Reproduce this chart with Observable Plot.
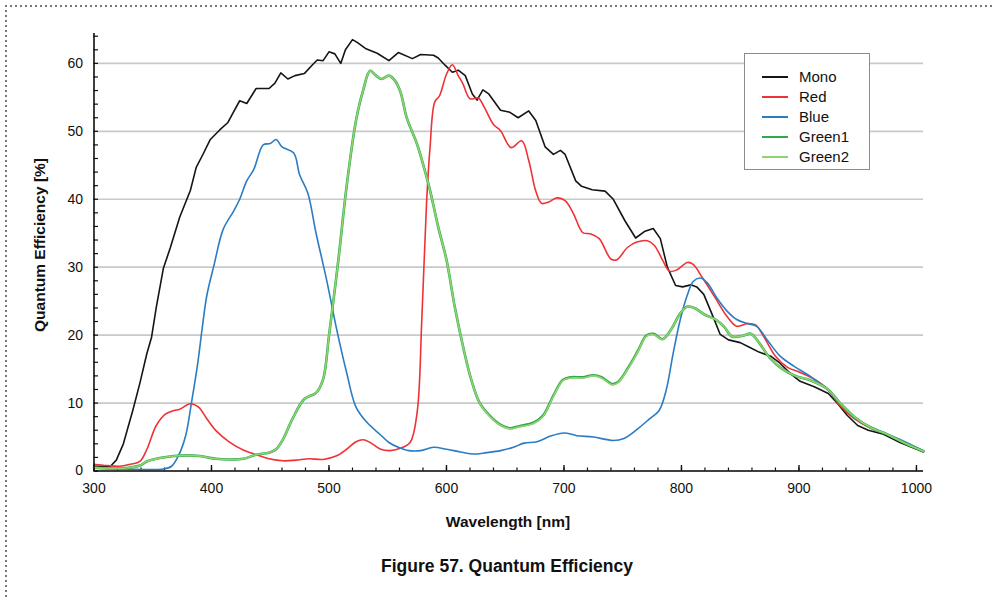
<!DOCTYPE html>
<html><head><meta charset="utf-8">
<script src="https://cdn.jsdelivr.net/npm/d3@7"></script>
<script src="https://cdn.jsdelivr.net/npm/@observablehq/plot@0.6"></script>
<style>
body{margin:0;background:#fff;font-family:"Liberation Sans",Arial,Helvetica,sans-serif;}
#wrap{position:relative;width:993px;height:597px;overflow:hidden;background:#fff;}
#chart{position:absolute;left:0;top:0;}
.dotH{position:absolute;left:5px;top:5px;width:990px;height:2px;background:repeating-linear-gradient(to right,#777 0 2px,transparent 2px 5px);}
.dotV{position:absolute;left:5px;top:5px;width:2px;height:600px;background:repeating-linear-gradient(to bottom,#777 0 2px,transparent 2px 5px);}
.ctr{position:absolute;transform:translate(-50%,-50%);white-space:nowrap;font-weight:bold;color:#111;}
#ytitle{left:40px;top:245px;transform:translate(-50%,-50%) rotate(-90deg);font-size:15.5px;}
#xtitle{left:508px;top:522px;font-size:15.5px;}
#caption{left:507px;top:566px;font-size:17.5px;}
#legend{position:absolute;left:744px;top:53px;width:126px;height:117px;border:1.5px solid #8c8c8c;background:#fff;box-sizing:border-box;}
.lrow{position:absolute;left:0;height:20px;font-size:15px;color:#111;}
.lrow .sw{position:absolute;left:17px;top:9px;width:26px;height:2px;}
.lrow .lb{position:absolute;left:54px;top:1px;line-height:18px;}
</style></head><body>
<div id="wrap">
<div id="chart"></div>
<div class="dotH"></div><div class="dotV"></div>
<div class="ctr" id="ytitle">Quantum Efficiency [%]</div>
<div class="ctr" id="xtitle">Wavelength [nm]</div>
<div class="ctr" id="caption">Figure 57. Quantum Efficiency</div>
<div id="legend"></div>
</div>
<script>
// Wavelength [nm], quantum efficiency [%]
const mono = [[300,0.7],[314,0.7],[319,1.6],[325,4.0],[333,8.9],[339,12.9],[345,17.3],[349,19.7],[353,24.1],[359,29.8],[365,32.9],[373,37.4],[382,41.3],[387,44.7],[393,46.7],[399,48.8],[407,50.2],[414,51.3],[418,52.6],[424,54.5],[430,54.1],[438,56.3],[449,56.3],[454,57.1],[459,58.6],[465,57.7],[471,58.2],[479,58.5],[486,59.8],[490,60.5],[495,60.4],[500,61.7],[505,61.4],[510,60.0],[514,62.0],[520,63.5],[524,63.1],[531,62.2],[541,61.5],[551,60.4],[559,61.6],[571,60.7],[578,61.3],[589,61.2],[593,60.8],[599,59.7],[605,58.7],[610,59.0],[616,58.2],[622,55.5],[626,54.6],[631,56.1],[636,55.5],[646,53.1],[654,52.8],[661,52.0],[670,53.0],[676,51.6],[684,47.7],[691,46.6],[697,47.2],[701,46.6],[710,42.7],[715,41.9],[724,41.4],[735,41.2],[742,40.0],[752,36.8],[761,34.3],[769,35.3],[776,35.7],[782,34.2],[788,30.0],[795,27.3],[801,27.1],[808,27.4],[813,27.1],[819,26.0],[826,23.1],[833,20.1],[840,19.3],[850,18.9],[857,18.3],[866,17.5],[876,16.9],[883,16.0],[893,14.3],[901,13.2],[913,12.4],[925,11.4],[933,9.9],[941,8.2],[950,6.7],[959,6.0],[972,5.4],[986,4.2],[1006,2.8]];
const red = [[300,1.0],[311,0.8],[322,0.7],[331,1.0],[339,1.4],[345,3.2],[353,6.7],[361,8.4],[368,8.9],[373,9.1],[382,9.9],[389,9.4],[396,7.7],[404,5.9],[415,4.3],[427,3.1],[438,2.4],[449,1.8],[461,1.5],[472,1.6],[483,1.8],[495,1.7],[506,2.2],[515,3.2],[523,4.3],[529,4.6],[535,4.2],[544,3.2],[552,3.0],[560,3.3],[569,4.2],[575,8.6],[579,22.3],[583,39.3],[586,47.6],[590,54.3],[594,55.2],[600,58.4],[605,59.8],[610,58.2],[614,57.0],[620,54.8],[627,54.9],[632,53.6],[640,51.0],[646,50.1],[655,47.6],[664,48.6],[670,45.7],[676,41.2],[681,39.4],[687,39.6],[694,40.2],[701,39.8],[708,37.9],[716,35.1],[723,34.9],[730,34.2],[740,31.2],[745,31.1],[754,32.9],[762,33.7],[771,33.9],[777,33.2],[784,31.0],[790,29.4],[796,29.6],[805,30.7],[810,30.4],[818,28.4],[828,25.7],[839,22.7],[847,21.3],[856,21.7],[863,21.5],[870,19.8],[880,16.9],[890,15.3],[901,14.5],[913,13.5],[924,12.1],[935,9.6],[947,7.7],[961,6.3],[975,5.4],[989,4.2],[1006,2.9]];
const blue = [[300,0.5],[325,0.3],[359,0.3],[366,0.7],[372,2.3],[378,5.2],[383,10.1],[388,15.5],[392,20.9],[396,25.8],[402,30.2],[410,35.6],[419,38.3],[424,40.0],[430,42.7],[436,44.4],[444,48.0],[450,48.2],[455,48.8],[460,47.7],[470,46.8],[475,43.6],[482,40.9],[489,35.0],[498,28.1],[506,21.3],[515,14.5],[523,9.4],[532,7.2],[544,5.3],[551,4.2],[559,3.5],[568,3.0],[578,3.0],[589,3.5],[600,3.2],[612,2.8],[623,2.5],[634,2.7],[646,3.0],[657,3.5],[666,4.1],[677,4.3],[688,5.1],[700,5.6],[711,5.2],[725,5.0],[742,4.5],[751,4.8],[762,6.1],[773,7.7],[781,8.9],[787,11.9],[793,17.4],[799,22.3],[805,25.9],[810,27.9],[816,28.4],[822,27.7],[830,25.5],[839,23.5],[847,22.3],[856,21.7],[864,21.3],[873,19.3],[884,16.9],[896,15.4],[910,13.9],[924,12.0],[938,9.3],[952,7.3],[967,6.0],[981,5.0],[995,3.9],[1006,3.0]];
const green1 = [[300,0.5],[325,0.4],[339,0.8],[345,1.4],[356,1.9],[368,2.2],[379,2.3],[390,2.2],[404,1.8],[415,1.7],[427,1.8],[438,2.4],[449,2.7],[455,3.2],[461,4.7],[469,7.7],[479,10.6],[489,11.5],[495,13.5],[500,19.9],[508,31.1],[515,41.9],[523,51.6],[529,56.0],[535,58.9],[540,58.2],[545,57.7],[551,58.2],[556,57.5],[561,55.7],[566,52.1],[575,48.1],[580,45.2],[586,41.3],[593,35.9],[600,31.1],[607,24.2],[614,18.4],[621,13.5],[628,10.1],[637,8.1],[645,6.9],[654,6.3],[662,6.6],[674,7.1],[682,8.1],[691,11.1],[699,13.4],[706,13.8],[716,13.8],[725,14.1],[732,13.8],[741,12.8],[746,13.1],[755,15.3],[763,17.7],[770,19.9],[776,20.2],[784,19.4],[791,20.8],[799,23.2],[805,24.2],[811,24.0],[820,23.0],[829,22.3],[836,21.3],[843,19.8],[852,19.9],[859,20.2],[866,18.9],[875,16.7],[886,15.0],[897,14.0],[909,13.4],[924,12.1],[935,10.0],[947,8.0],[961,6.4],[975,5.4],[989,4.2],[1006,2.9]];
const green2 = [[300,0.5],[325,0.4],[339,0.8],[345,1.4],[356,1.9],[368,2.2],[379,2.3],[390,2.2],[404,1.8],[415,1.7],[427,1.8],[438,2.4],[449,2.7],[455,3.2],[461,4.7],[469,7.7],[479,10.6],[489,11.5],[495,13.5],[500,19.9],[508,31.1],[515,41.9],[523,51.6],[529,56.0],[535,58.9],[540,58.2],[545,57.7],[551,58.2],[556,57.5],[561,55.7],[566,52.1],[575,48.1],[580,45.2],[586,41.3],[593,35.9],[600,31.1],[607,24.2],[614,18.4],[621,13.5],[628,10.1],[637,8.0],[645,6.8],[654,6.2],[662,6.5],[674,7.0],[682,8.0],[691,11.0],[699,13.3],[706,13.7],[716,13.7],[725,14.0],[732,13.7],[741,12.7],[746,13.0],[755,15.2],[763,17.6],[770,19.8],[776,20.1],[784,19.4],[791,20.8],[799,23.2],[805,24.2],[811,24.0],[820,23.0],[829,22.3],[836,21.3],[843,19.8],[852,19.9],[859,20.2],[866,18.9],[875,16.7],[886,15.0],[897,14.0],[909,13.4],[924,12.1],[935,10.0],[947,8.0],[961,6.4],[975,5.4],[989,4.2],[1006,2.9]];

const seriesNames = ["Mono","Red","Blue","Green1","Green2"];
const seriesColors = ["#151515","#ef3236","#2b7cc3","#2fa84f","#8fd46f"];
const seriesWidths = [1.6,1.6,1.6,2.6,1.6];
const seriesData = [mono, red, blue, green1, green2];

const xTicksMajor = [300,400,500,600,700,800,900,1000];
const xTicksMinor = d3.range(300, 1001, 20);
const yTicksMajor = [0,10,20,30,40,50,60];
const yTicksMinor = d3.range(0, 65, 2);
const gridY = [10,20,30,40,50,60];

const lineMarks = seriesData.map((data, i) =>
  Plot.line(data.map(([nm, qe]) => ({nm, qe})), {
    x: "nm", y: "qe", stroke: seriesColors[i], strokeWidth: seriesWidths[i],
    curve: i === 0 ? "linear" : "catmull-rom"
  })
);

const chart = Plot.plot({
  width: 993, height: 540,
  marginTop: 33, marginBottom: 69.5, marginLeft: 93.5, marginRight: 70,
  x: {domain: [300, 1006]},
  y: {domain: [0, 64.4]},
  style: {fontFamily: '"Liberation Sans",Arial,Helvetica,sans-serif', fontSize: "14px", color: "#111", background: "transparent"},
  marks: [
    Plot.ruleY(gridY, {x1: 300, x2: 1006, stroke: "#c9c9c9", strokeWidth: 1.7}),
    Plot.axisY(yTicksMinor, {tickSize: -4.5, tickFormat: () => "", label: null, strokeWidth: 1.2}),
    Plot.axisY(yTicksMajor, {tickSize: 0, tickPadding: 11, label: null, fontSize: 14}),
    Plot.axisX(xTicksMinor, {tickSize: -3, tickFormat: () => "", label: null, strokeWidth: 1.2}),
    Plot.axisX(xTicksMajor, {tickSize: -5.5, tickFormat: () => "", label: null, strokeWidth: 1.4}),
    Plot.axisX(xTicksMajor, {tickSize: 0, tickPadding: 12, tickFormat: d3.format("d"), label: null, fontSize: 14}),
    ...lineMarks,
    Plot.ruleX([300], {y1: 0, y2: 64.4, stroke: "#000", strokeWidth: 1.5}),
    Plot.ruleY([0], {stroke: "#000", strokeWidth: 1.5})
  ]
});
document.getElementById("chart").appendChild(chart);

const legend = document.getElementById("legend");
seriesNames.forEach((name, i) => {
  const row = document.createElement("div");
  row.className = "lrow";
  row.style.top = (13 + i * 20) + "px";
  row.innerHTML = `<div class="sw" style="background:${seriesColors[i]}"></div><div class="lb">${name}</div>`;
  legend.appendChild(row);
});
</script>
</body></html>
